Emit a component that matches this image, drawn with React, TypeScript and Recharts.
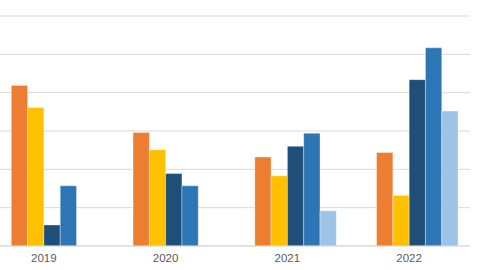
import { BarChart, Bar, XAxis, YAxis, CartesianGrid } from "recharts";

const years = ["2019", "2020", "2021", "2022"];

// leading empty series keeps the bars offset from the year labels
const spacer = [null, null, null, null];
const orange = [41.9, 29.6, 23.2, 24.4];
const gold = [36.1, 25.1, 18.3, 13.2];
const navy = [5.5, 18.9, 26.0, 43.4];
const blue = [15.7, 15.7, 29.4, 51.7];
const lightBlue = [null, null, 9.2, 35.2];

const yTicks = [0, 10, 20, 30, 40, 50, 60];

const series = [
  { key: "orange", color: "#ED7D31" },
  { key: "gold", color: "#FFC000" },
  { key: "navy", color: "#1F4E79" },
  { key: "blue", color: "#2E75B6" },
  { key: "lightBlue", color: "#9DC3E6" },
];

const data = years.map((year, i) => ({
  year,
  spacer: spacer[i],
  orange: orange[i],
  gold: gold[i],
  navy: navy[i],
  blue: blue[i],
  lightBlue: lightBlue[i],
}));

export default function App() {
  return (
    <div
      style={{
        position: "fixed",
        top: 0,
        left: 0,
        width: 480,
        height: 270,
        overflow: "hidden",
        background: "#fff",
      }}
    >
      <div style={{ marginLeft: -17 }}>
        <BarChart
          width={487}
          height={270}
          data={data}
          margin={{ top: 16, right: 0, bottom: 0, left: 0 }}
          barGap={0}
          barSize={16.3}
        >
          <CartesianGrid vertical={false} stroke="#d9d9d9" />
          <YAxis hide domain={[0, 60]} ticks={yTicks} />
          <XAxis
            dataKey="year"
            height={24}
            tickLine={false}
            axisLine={{ stroke: "#d9d9d9" }}
            tick={{
              fill: "#595959",
              fontSize: 11.5,
              fontFamily: "'Liberation Sans', Arial, sans-serif",
            }}
          />
          <Bar dataKey="spacer" fill="none" isAnimationActive={false} />
          {series.map((s) => (
            <Bar
              key={s.key}
              dataKey={s.key}
              fill={s.color}
              stroke="#ffffff"
              strokeOpacity={0.35}
              strokeWidth={1}
              isAnimationActive={false}
            />
          ))}
        </BarChart>
      </div>
    </div>
  );
}
